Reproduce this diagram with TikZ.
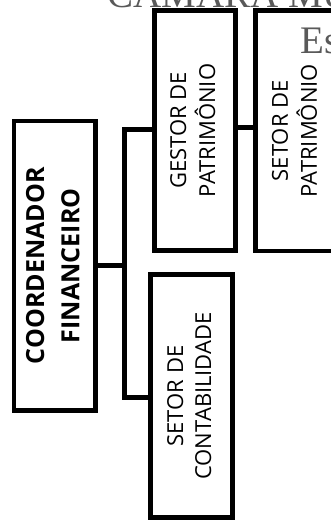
\documentclass[tikz,border=0pt]{standalone}
\usepackage{fontspec}
\usepackage{graphicx}
\newfontfamily\osans{Open Sans}
\newfontfamily\tms{Liberation Serif}
\begin{document}
\begin{tikzpicture}[x=1pt,y=-1pt,
  orgbox/.style={draw=black, line width=4.6pt, inner sep=0pt, line join=miter},
  conn/.style={draw=black, line width=4.6pt, line join=miter},
  regtext/.style={font=\osans\fontsize{22}{28}\selectfont},
  boldtext/.style={font=\osans\bfseries\fontsize{25}{35}\selectfont},
  headtext/.style={text=black!65, inner sep=0pt, font=\tms\fontsize{39}{39}\selectfont}
]
\useasboundingbox (0,0) rectangle (331,522);
\begin{scope}
\clip (0,0) rectangle (331,522);
% letterhead remnants
\node[headtext, anchor=base west] (head) at (107,7) {CÂMARA MUNICIPAL};
\node[headtext, anchor=base west] (est) at (300,53) {Estado};
% boxes
\node[orgbox, boldtext, minimum width=81.5pt, minimum height=289.5pt] (coord) at (54.75,265.75)
  {\rotatebox{90}{\begin{tabular}{@{}c@{}}COORDENADOR\\FINANCEIRO\end{tabular}}};
\node[orgbox, regtext, minimum width=81pt, minimum height=240pt] (gestor) at (195,130.5)
  {\rotatebox{90}{\begin{tabular}{@{}c@{}}GESTOR DE\\PATRIMÔNIO\end{tabular}}};
\node[orgbox, regtext, minimum width=82.5pt, minimum height=240.5pt] (setorpat) at (296.75,130.75)
  {\rotatebox{90}{\begin{tabular}{@{}c@{}}SETOR DE\\PATRIMÔNIO\end{tabular}}};
\node[orgbox, regtext, minimum width=82pt, minimum height=243pt] (contab) at (191.5,396)
  {\rotatebox{90}{\begin{tabular}{@{}c@{}}SETOR DE\\CONTABILIDADE\end{tabular}}};
% connectors
\coordinate (bt) at (124.5,129.5);
\coordinate (bb) at (124.5,397.5);
\coordinate (gp) at (245,127.5);
\draw[conn] (gestor.west |- bt) -- (bt) -- (bb) -- (contab.west |- bb);
\draw[conn] (coord.east) -- (coord.east -| bt);
\draw[conn] (gestor.east |- gp) -- (setorpat.west |- gp);
\end{scope}
\end{tikzpicture}
\end{document}
